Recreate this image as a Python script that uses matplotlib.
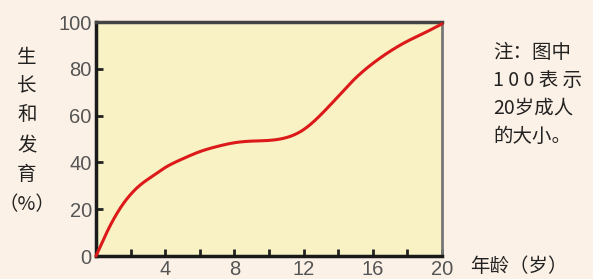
import matplotlib
matplotlib.use("Agg")
import matplotlib.pyplot as plt
import numpy as np

# data
age = [0, 0.25, 0.6, 1.1, 1.6, 2, 2.55, 3.3, 4, 5, 6, 7, 8, 9, 10, 11, 12, 13, 14, 15, 16, 17, 18, 19, 20]
growth = [0, 4, 9.7, 16.8, 22.6, 26.3, 30.3, 34.3, 37.8, 41.5, 44.6, 46.8, 48.4, 49.1, 49.4, 50.6, 54, 60.4, 68.2, 76, 82.3, 87.5, 91.8, 95.4, 99.2]
xticks_major = [4, 8, 12, 16, 20]
xticks_minor = [2, 6, 10, 14, 18]
yticks = [0, 20, 40, 60, 80, 100]
ylabel_chars = ["生", "长", "和", "发", "育"]
note_lines = ["注：图中", "1 0 0 表 示", "20岁成人", "的大小。"]
xlabel_text = "年龄（岁）"

cjk = ["Noto Sans CJK SC", "DejaVu Sans"]
W, H = 593, 279
fig = plt.figure(figsize=(W / 100, H / 100), dpi=100)
fig.patch.set_facecolor("#fcf1e6")
ax = fig.add_axes([96 / W, 1 - 256 / H, (442 - 96) / W, (256 - 22) / H])
ax.set_facecolor("#f8f2c4")


def natural_spline(x, y, xn):
    x = np.asarray(x, float)
    y = np.asarray(y, float)
    n = len(x)
    h = np.diff(x)
    A = np.zeros((n, n))
    b = np.zeros(n)
    A[0, 0] = 1
    A[-1, -1] = 1
    for i in range(1, n - 1):
        A[i, i - 1] = h[i - 1]
        A[i, i] = 2 * (h[i - 1] + h[i])
        A[i, i + 1] = h[i]
        b[i] = 3 * ((y[i + 1] - y[i]) / h[i] - (y[i] - y[i - 1]) / h[i - 1])
    c = np.linalg.solve(A, b)
    bb = (y[1:] - y[:-1]) / h - h * (2 * c[:-1] + c[1:]) / 3
    d = (c[1:] - c[:-1]) / (3 * h)
    idx = np.clip(np.searchsorted(x, xn) - 1, 0, n - 2)
    t = xn - x[idx]
    return y[idx] + bb[idx] * t + c[idx] * t**2 + d[idx] * t**3


xn = np.linspace(0, 20, 500)
ax.plot(xn, natural_spline(age, growth, xn), color="#dd1a1a", lw=2.2,
        solid_capstyle="round", clip_on=False, zorder=3)

ax.set_xlim(0, 20)
ax.set_ylim(0, 100)
ax.set_xticks(xticks_major)
ax.set_xticks(xticks_minor, minor=True)
ax.set_yticks(yticks)
ax.tick_params(axis="both", which="both", direction="in", length=5, width=2, color="#222222")
ax.tick_params(axis="both", labelsize=14.5, labelcolor="#555555", pad=3)
for lab in ax.get_xticklabels() + ax.get_yticklabels():
    lab.set_fontfamily("Liberation Sans")

for s, c, lw in [("left", "#1a1a1a", 2.5), ("bottom", "#1a1a1a", 2.5), ("top", "#444444", 2.5), ("right", "#777777", 2.0)]:
    ax.spines[s].set_color(c)
    ax.spines[s].set_linewidth(lw)

# y label characters
ypos = [57, 86, 115, 146, 174]
for ch, yp in zip(ylabel_chars, ypos):
    fig.text(27 / W, 1 - yp / H, ch, family=cjk, fontsize=14, color="#222222", ha="center", va="center")
fig.text(27 / W, 1 - 205 / H, "（%）", family=cjk, fontsize=14, color="#222222", ha="center", va="center")

# note
npos = [52, 80, 108, 136]
for line, yp in zip(note_lines, npos):
    fig.text(493 / W, 1 - yp / H, line, family=cjk, fontsize=14, color="#222222", ha="left", va="center")

fig.text(470 / W, 1 - 266 / H, xlabel_text, family=cjk, fontsize=14, color="#222222", ha="left", va="center")

fig.savefig("out.png", dpi=100, facecolor=fig.get_facecolor())
